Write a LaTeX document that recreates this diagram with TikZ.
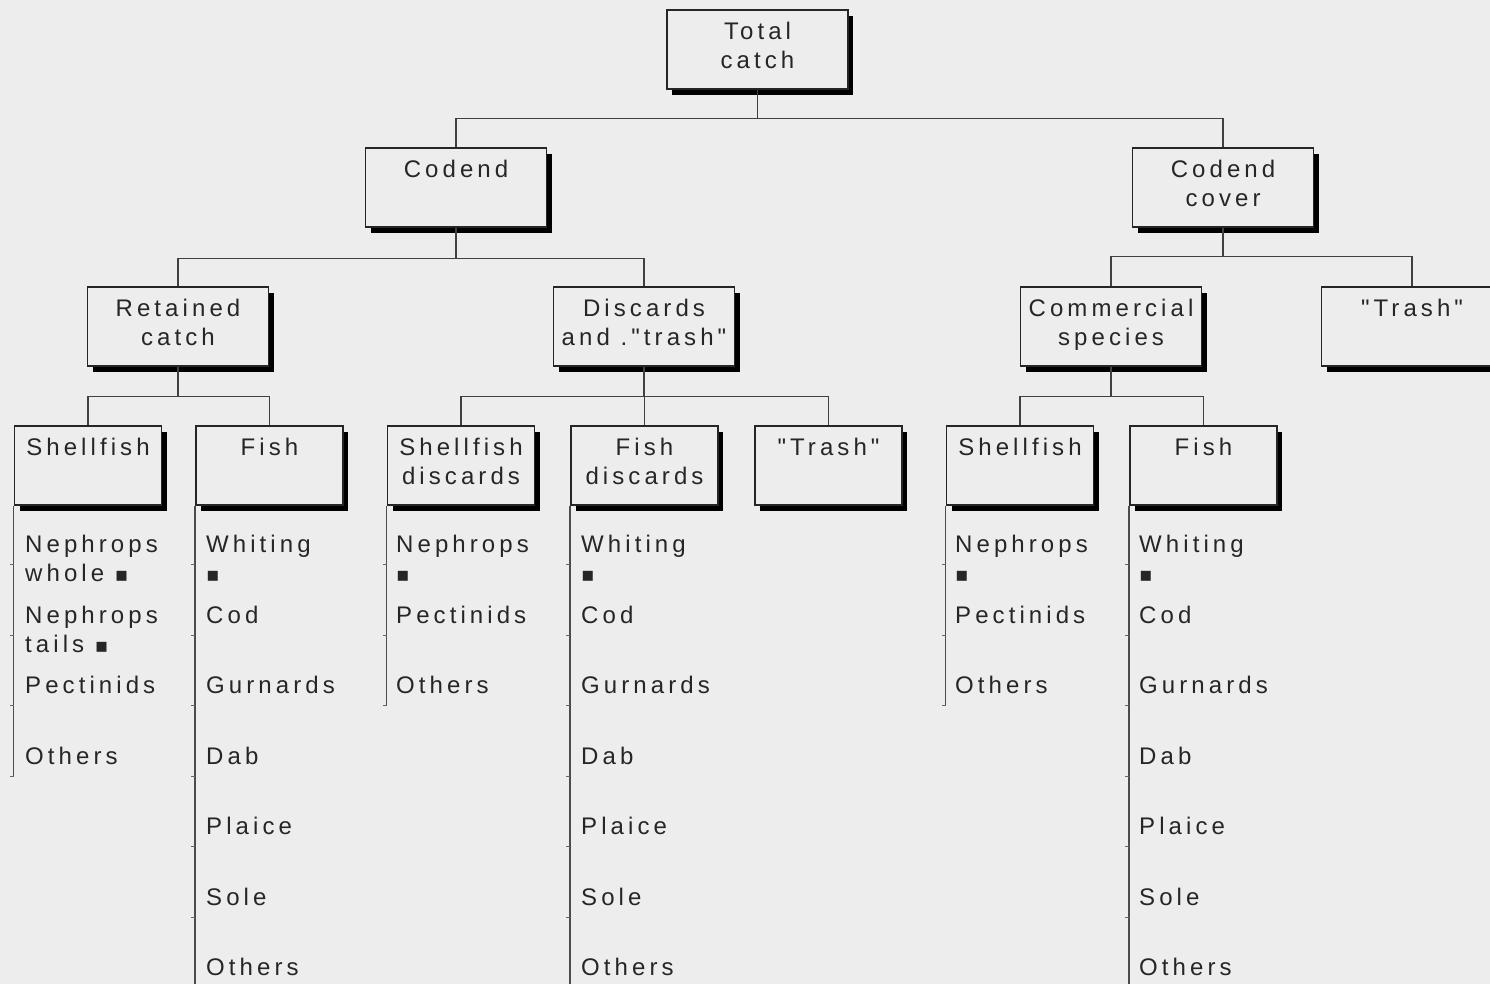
\documentclass[tikz,border=0pt]{standalone}
\usepackage{fontspec}
\setmainfont{Liberation Sans}[LetterSpace=17, Ligatures=TeXOff]
\newfontfamily\symfont{DejaVu Sans}
\usetikzlibrary{shadows}
\usetikzlibrary{positioning}
\definecolor{bgcol}{gray}{0.93}
\newcommand{\blk}{{\symfont\fontsize{20}{20}\selectfont ▪}}
\tikzset{
    catbox/.style = {rectangle, draw=black!85, line width=1.8pt, fill=bgcol, align=center, anchor=north, minimum height=79pt, inner sep=0pt, font=\fontsize{24}{28.5}\selectfont, text=black!85, execute at begin node={\strut}, execute at end node={\strut}, drop shadow={shadow xshift=5pt, shadow yshift=-6pt, fill=black, opacity=1}},
    catboxw/.style = {catbox, minimum width=181pt},
    catboxn/.style = {catbox, minimum width=147pt},
    item/.style = {anchor=base west, inner sep=0pt, align=left, font=\fontsize{24}{29}\selectfont, text=black!85},
    edgen/.style = {-, line width=1.3pt, black!75},
    listline/.style = {-, line width=1.3pt, black!70},
    tickline/.style = {-, line width=1pt, black!60}
}
\begin{document}
\begin{tikzpicture}[x=1pt, y=-1pt]
\useasboundingbox (0,0) rectangle (1490,984);
\clip (0,0) rectangle (1490,984);
\fill[bgcol] (0,0) rectangle (1490,984);
%
\node[catboxw] at (757.5, 9) (total) {Total\\catch};
\node[catboxw] at (456, 147) (codend) {Codend\\\strut};
\node[catboxw] at (1223, 147) (cover) {Codend\\cover};
\node[catboxw] at (178, 286) (retained) {Retained\\catch};
\node[catboxw] at (644, 286) (discards) {Discards\\and ."trash"};
\node[catboxw] at (1111, 286) (commercial) {Commercial\\species};
\node[catboxw] at (1412, 286) (trashC) {"Trash"\\\strut};
\node[catboxn] at (88, 425) (shellR) {Shellfish\\\strut};
\node[catboxn] at (269.5, 425) (fishR) {Fish\\\strut};
\node[catboxn] at (461, 425) (shellD) {Shellfish\\discards};
\node[catboxn] at (644.5, 425) (fishD) {Fish\\discards};
\node[catboxn] at (828.5, 425) (trashD) {"Trash"\\\strut};
\node[catboxn] at (1020, 425) (shellC) {Shellfish\\\strut};
\node[catboxn] at (1203.5, 425) (fishC) {Fish\\\strut};
%
\draw[edgen] (total.south) -- ++(0,29) -| (codend.north);
\draw[edgen] (total.south) -- ++(0,29) -| (cover.north);
\draw[edgen] (codend.south) -- ++(0,31) -| (retained.north);
\draw[edgen] (codend.south) -- ++(0,31) -| (discards.north);
\draw[edgen] (cover.south) -- ++(0,29) -| (commercial.north);
\draw[edgen] (cover.south) -- ++(0,29) -| (trashC.north);
\draw[edgen] (retained.south) -- ++(0,30) -| (shellR.north);
\draw[edgen] (retained.south) -- ++(0,30) -| (fishR.north);
\draw[edgen] (discards.south) -- ++(0,30) -| (shellD.north);
\draw[edgen] (discards.south) -- ++(0,30) -| (fishD.north);
\draw[edgen] (discards.south) -- ++(0,30) -| (trashD.north);
\draw[edgen] (commercial.south) -- ++(0,30) -| (shellC.north);
\draw[edgen] (commercial.south) -- ++(0,30) -| (fishC.north);
%
% species lists
\draw[listline] (shellR.south west) -- ++(0,270.5);
\draw[listline] (fishR.south west) -- ++(0,500);
\draw[listline] (shellD.south west) -- ++(0,200);
\draw[listline] (fishD.south west) -- ++(0,500);
\draw[listline] (shellC.south west) -- ++(0,200);
\draw[listline] (fishC.south west) -- ++(0,500);
\foreach \k in {0,...,3} \draw[tickline] (shellR.south west) ++(0,{59+70.5*\k}) -- ++(-4,0);
\foreach \k in {0,...,2} \draw[tickline] (shellD.south west) ++(0,{59+70.5*\k}) -- ++(-4,0);
\foreach \k in {0,...,2} \draw[tickline] (shellC.south west) ++(0,{59+70.5*\k}) -- ++(-4,0);
\foreach \k in {0,...,5} {
  \draw[tickline] (fishR.south west) ++(0,{59+70.5*\k}) -- ++(-4,0);
  \draw[tickline] (fishD.south west) ++(0,{59+70.5*\k}) -- ++(-4,0);
  \draw[tickline] (fishC.south west) ++(0,{59+70.5*\k}) -- ++(-4,0);
}
%
% two-line items sit on the baseline of their last line
\node[item] at (25, 581.5) (rNephW) {Nephrops\\whole \blk};
\node[item] at (25, 652) (rNephT) {Nephrops\\tails \blk};
\node[item] at (25, 693.5) (rPect) {Pectinids};
\node[item] at (25, 764) (rShOth) {Others};
%
\node[item] at (206, 581.5) (rWhit) {Whiting\\\blk};
\node[item] at (206, 623) (rCod) {Cod};
\node[item] at (206, 693.5) (rGurn) {Gurnards};
\node[item] at (206, 764) (rDab) {Dab};
\node[item] at (206, 834.5) (rPlai) {Plaice};
\node[item] at (206, 905) (rSole) {Sole};
\node[item] at (206, 975.5) (rFiOth) {Others};
%
\node[item] at (396, 581.5) (dNeph) {Nephrops\\\blk};
\node[item] at (396, 623) (dPect) {Pectinids};
\node[item] at (396, 693.5) (dShOth) {Others};
%
\node[item] at (581, 581.5) (dWhit) {Whiting\\\blk};
\node[item] at (581, 623) (dCod) {Cod};
\node[item] at (581, 693.5) (dGurn) {Gurnards};
\node[item] at (581, 764) (dDab) {Dab};
\node[item] at (581, 834.5) (dPlai) {Plaice};
\node[item] at (581, 905) (dSole) {Sole};
\node[item] at (581, 975.5) (dFiOth) {Others};
%
\node[item] at (955, 581.5) (cNeph) {Nephrops\\\blk};
\node[item] at (955, 623) (cPect) {Pectinids};
\node[item] at (955, 693.5) (cShOth) {Others};
%
\node[item] at (1139, 581.5) (cWhit) {Whiting\\\blk};
\node[item] at (1139, 623) (cCod) {Cod};
\node[item] at (1139, 693.5) (cGurn) {Gurnards};
\node[item] at (1139, 764) (cDab) {Dab};
\node[item] at (1139, 834.5) (cPlai) {Plaice};
\node[item] at (1139, 905) (cSole) {Sole};
\node[item] at (1139, 975.5) (cFiOth) {Others};
\end{tikzpicture}
\end{document}
